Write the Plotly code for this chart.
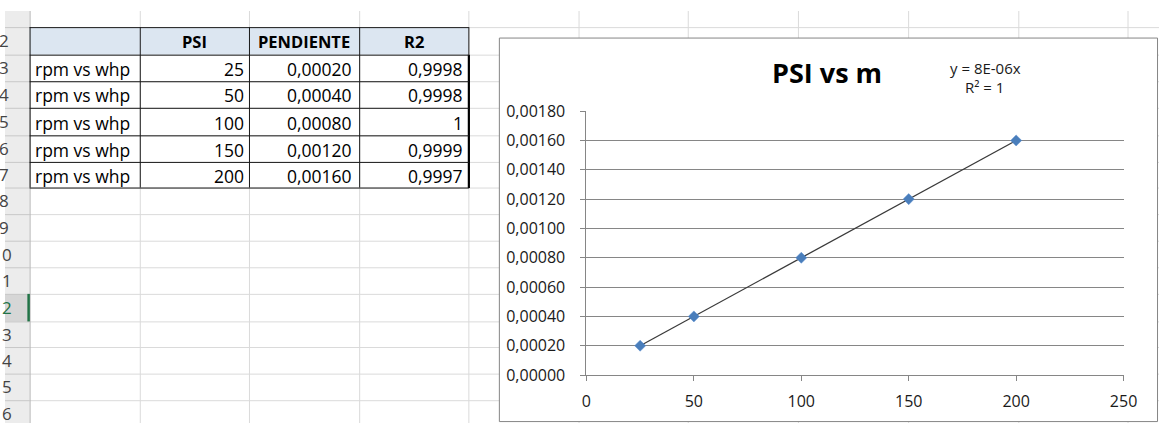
import numpy as np
import plotly.graph_objects as go

W, H = 1173, 434

# ---- worksheet data ----
row_labels = ["rpm vs whp", "rpm vs whp", "rpm vs whp", "rpm vs whp", "rpm vs whp"]
psi = [25, 50, 100, 150, 200]
pendiente = [0.00020, 0.00040, 0.00080, 0.00120, 0.00160]
r2 = [0.9998, 0.9998, 1, 0.9999, 0.9997]
headers = ["PSI", "PENDIENTE", "R2"]
sheet_rows = list(range(2, 17))
chart_title = "PSI vs m"

FONT = "Open Sans"


def fx(x):
    return x / W


def fy(y):
    return 1 - y / H


def fmt_fixed(v, n):
    return f"{v:.{n}f}".replace(".", ",")


def fmt_general(v):
    return f"{v:g}".replace(".", ",")


# ---- linear trendline forced through the origin ----
xa = np.array(psi, dtype=float)
ya = np.array(pendiente, dtype=float)
slope = float(xa @ ya / (xa @ xa))
fit = slope * xa
r2_fit = 1 - float(((ya - fit) ** 2).sum() / (ya ** 2).sum())
eq_text = f"y = {slope:.0E}x"
r2_text = f"R² = {r2_fit:g}"
trend_x = [xa.min(), xa.max()]
trend_y = [slope * v for v in trend_x]

# ---- sheet geometry (pixels) ----
col_edges = [25, 137, 248, 360, 471, 583, 694, 806, 918, 1030, 1141]
row_edges = [-11, 17, 46, 74, 102, 131, 159, 186, 214, 242, 270, 298, 327, 354, 382, 410, 438]
grid_col = "#dadada"
selected_row = 12

shapes = []


def line(x0, y0, x1, y1, color, width=1):
    shapes.append(dict(type="line", xref="paper", yref="paper",
                       x0=fx(x0), y0=fy(y0), x1=fx(x1), y1=fy(y1),
                       line=dict(color=color, width=width), layer="below"))


def rect(x0, y0, x1, y1, fill, border=None, width=1):
    shapes.append(dict(type="rect", xref="paper", yref="paper",
                       x0=fx(x0), y0=fy(y0), x1=fx(x1), y1=fy(y1),
                       fillcolor=fill,
                       line=dict(color=border or fill, width=width if border else 0),
                       layer="below"))


# cell gridlines
for cx in col_edges[1:]:
    line(cx + 0.5, 0, cx + 0.5, H, grid_col)
for ry in row_edges[1:-1]:
    line(col_edges[0], ry + 0.5, W, ry + 0.5, grid_col)

# row header strip
rect(0, 0, 25, H, "#ececec")
r_top, r_bot = row_edges[selected_row - 1], row_edges[selected_row]
rect(0, r_top, 25, r_bot, "#d6d6d6")
for ry in row_edges[1:-1]:
    line(0, ry + 0.5, 25, ry + 0.5, "#c8c8c8")
line(25.5, 0, 25.5, H, "#b4b4b4")
line(24, r_top, 24, r_bot, "#217346", 2.5)

# table: header fill and borders
t_top, t_hdr, t_bot = row_edges[1], row_edges[2], row_edges[7]
rect(col_edges[0], t_top, col_edges[4], t_hdr, "#dce6f1")
for cx in col_edges[:4]:
    line(cx + 0.5, t_top, cx + 0.5, t_bot, "#1a1a1a")
line(col_edges[4] + 0.5, t_top, col_edges[4] + 0.5, t_hdr, "#1a1a1a")
line(col_edges[4] + 0.5, t_hdr, col_edges[4] + 0.5, t_bot + 0.5, "#000000", 2.2)
for ry in row_edges[1:8]:
    line(col_edges[0], ry + 0.5, col_edges[4] + 0.5, ry + 0.5, "#1a1a1a")

# chart area
rect(502.5, 28.5, 1171.5, 432.5, "#ffffff", "#868686", 1)

annotations = []


def text(x, y, s, size=17.5, anchor="left", color="#000000", bold=False):
    annotations.append(dict(xref="paper", yref="paper", x=fx(x), y=fy(y),
                            text=f"<b>{s}</b>" if bold else s, showarrow=False,
                            xanchor=anchor, yanchor="middle",
                            font=dict(family=FONT, size=size, color=color)))


# row numbers: the header column is scrolled so only the units digit shows
for n in sheet_rows:
    yc = (row_edges[n - 1] + row_edges[n]) / 2
    colr = "#217346" if n == selected_row else "#444444"
    right = 9 if n >= 10 else 6
    text(right, yc, str(n)[-1], size=17, anchor="right", color=colr)

# table header
hdr_c = (t_top + t_hdr) / 2
for i, h in enumerate(headers):
    xc = (col_edges[i + 1] + col_edges[i + 2]) / 2
    text(xc, hdr_c + 1, h, size=16.5, anchor="center", bold=True)

# table body
for i in range(len(psi)):
    yc = (row_edges[i + 2] + row_edges[i + 3]) / 2 + 1
    text(col_edges[0] + 3, yc, row_labels[i])
    text(col_edges[2] - 3, yc, str(psi[i]), anchor="right")
    text(col_edges[3] - 5, yc, fmt_fixed(pendiente[i], 5), anchor="right")
    text(col_edges[4] - 3, yc, fmt_general(r2[i]), anchor="right")

# chart title and trendline label
text(836, 65, chart_title, size=27, anchor="center", bold=True)
text(997, 60, eq_text, size=15, anchor="center", color="#1a1a1a")
text(996, 80, r2_text, size=15, anchor="center", color="#1a1a1a")

fig = go.Figure()
fig.add_trace(go.Scatter(x=trend_x, y=trend_y, mode="lines",
                         line=dict(color="#3a3a3a", width=1.3),
                         hoverinfo="skip", showlegend=False))
fig.add_trace(go.Scatter(x=psi, y=pendiente, mode="markers",
                         marker=dict(symbol="diamond", size=8.5, color="#4a7ebb",
                                     line=dict(color="#5b8fd0", width=0.5)),
                         showlegend=False))

axis_grey = "#868686"
tick_font = dict(family=FONT, size=16, color="#1a1a1a")
fig.update_layout(
    width=W, height=H, autosize=False,
    margin=dict(l=0, r=0, t=0, b=0, pad=0),
    paper_bgcolor="#ffffff", plot_bgcolor="rgba(0,0,0,0)",
    separators=",.",
    shapes=shapes, annotations=annotations,
    xaxis=dict(domain=[fx(591), fx(1137)], range=[0, 250], dtick=50, tick0=0,
               showgrid=False, zeroline=False, showline=True, linecolor=axis_grey,
               ticks="outside", ticklen=5, tickcolor=axis_grey,
               tickfont=tick_font, ticklabelstandoff=7, fixedrange=True),
    yaxis=dict(domain=[fy(383.5), fy(105.5)], range=[0, 0.0018], dtick=0.0002, tick0=0,
               tickformat=".5f", showgrid=True, gridcolor=axis_grey, gridwidth=1,
               zeroline=False, showline=True, linecolor=axis_grey,
               ticks="outside", ticklen=5, tickcolor=axis_grey,
               tickfont=tick_font, ticklabelstandoff=12, fixedrange=True),
    hovermode=False,
)

# the page body gets no default margin so the figure sits at the window's corner
fig.write_html(
    "out.html",
    config=dict(displayModeBar=False),
    post_script="document.body.style.margin='0';",
)
